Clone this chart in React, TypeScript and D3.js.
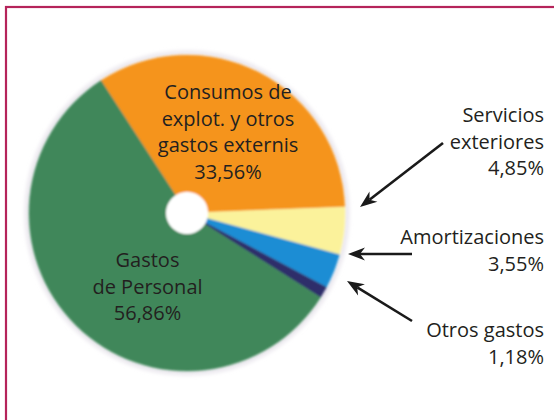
import React from "react";
import * as d3 from "d3";

// ---- data ----
const categories = [
  "Consumos de explot. y otros gastos externis",
  "Servicios exteriores",
  "Amortizaciones",
  "Otros gastos",
  "Gastos de Personal",
];
const values = [33.56, 4.85, 3.55, 1.18, 56.86];
const valueLabels = ["33,56%", "4,85%", "3,55%", "1,18%", "56,86%"];
const sliceColors = ["#f5941e", "#fbf29b", "#1c8dd4", "#2e2e6b", "#3f875a"];

// label lines (text only)
const labelLines = [
  ["Consumos de", "explot. y otros", "gastos externis"],
  ["Servicios", "exteriores"],
  ["Amortizaciones"],
  ["Otros gastos"],
  ["Gastos", "de Personal"],
];

// ---- layout ----
const W = 554;
const H = 420;
const CX = 187;
const CY = 213;
const R = 158;
const R0 = 21;
const START = (-33 * Math.PI) / 180;
const FONT = "'Open Sans', sans-serif";
const TEXT = "#231f20";
const LINE_H = 26.5;

// label anchors: [x, first baseline, anchor]
const labelPos: [number, number, "middle" | "end"][] = [
  [228, 99, "middle"],
  [544, 122, "end"],
  [544, 244, "end"],
  [544, 337, "end"],
  [147.5, 267, "middle"],
];
// annotation arrows: [x1, y1, tipX, tipY] (index matches category, null = none)
const arrows: ([number, number, number, number] | null)[] = [
  null,
  [443, 143, 360, 207],
  [412, 254, 348, 254],
  [412, 321, 347, 281],
  null,
];

function Arrow({ a }: { a: [number, number, number, number] }) {
  const [x1, y1, x2, y2] = a;
  const dx = x2 - x1;
  const dy = y2 - y1;
  const len = Math.hypot(dx, dy);
  const ux = dx / len;
  const uy = dy / len;
  const px = -uy;
  const py = ux;
  const hl = 17; // head length
  const hw = 6.5; // half width
  const notch = 12;
  const bx = x2 - ux * hl;
  const by = y2 - uy * hl;
  const nx = x2 - ux * notch;
  const ny = y2 - uy * notch;
  const head = `M${x2},${y2} L${bx + px * hw},${by + py * hw} L${nx},${ny} L${bx - px * hw},${by - py * hw} Z`;
  return (
    <g>
      <line x1={x1} y1={y1} x2={nx} y2={ny} stroke="#1a1a1a" strokeWidth={2.6} />
      <path d={head} fill="#1a1a1a" />
    </g>
  );
}

export default function App() {
  const pie = d3
    .pie<number>()
    .sort(null)
    .startAngle(START)
    .endAngle(START + 2 * Math.PI)
    .value((d) => d);
  const arcs = pie(values);
  const arc = d3.arc<d3.PieArcDatum<number>>().innerRadius(R0).outerRadius(R);

  return (
    <svg
      width={W}
      height={H}
      style={{ position: "absolute", left: 0, top: 0, background: "#fff" }}
    >
      <defs>
        <filter id="soft" x="-10%" y="-10%" width="120%" height="120%">
          <feGaussianBlur stdDeviation="0.8" />
        </filter>
        <filter id="halo" x="-10%" y="-10%" width="120%" height="120%">
          <feGaussianBlur stdDeviation="2" />
        </filter>
      </defs>
      <rect x={0} y={0} width={W} height={H} fill="#fff" />
      <rect
        x={6}
        y={7}
        width={W + 40}
        height={H + 40}
        fill="none"
        stroke="#b5245a"
        strokeWidth={2.2}
      />
      <circle cx={CX} cy={CY} r={R + 2} fill="none" stroke="#e6e2ea" strokeWidth={4} filter="url(#halo)" />
      <g transform={`translate(${CX},${CY})`} filter="url(#soft)">
        {arcs.map((a, i) => (
          <path key={i} d={arc(a) || ""} fill={sliceColors[i]} stroke={sliceColors[i]} strokeWidth={0.5} />
        ))}
        <circle r={R0} fill="#fff" />
      </g>
      {labelLines.map((lines, i) => {
        const [x, y0, anchor] = labelPos[i];
        const all = [...lines, valueLabels[i]];
        return (
          <text
            key={i}
            x={x}
            y={y0}
            textAnchor={anchor}
            fontFamily={FONT}
            fontSize={20}
            fill={TEXT}
          >
            {all.map((t, j) => (
              <tspan key={j} x={x} dy={j === 0 ? 0 : LINE_H}>
                {t}
              </tspan>
            ))}
          </text>
        );
      })}
      {arrows.map((a, i) => (a ? <Arrow key={i} a={a} /> : null))}
    </svg>
  );
}
